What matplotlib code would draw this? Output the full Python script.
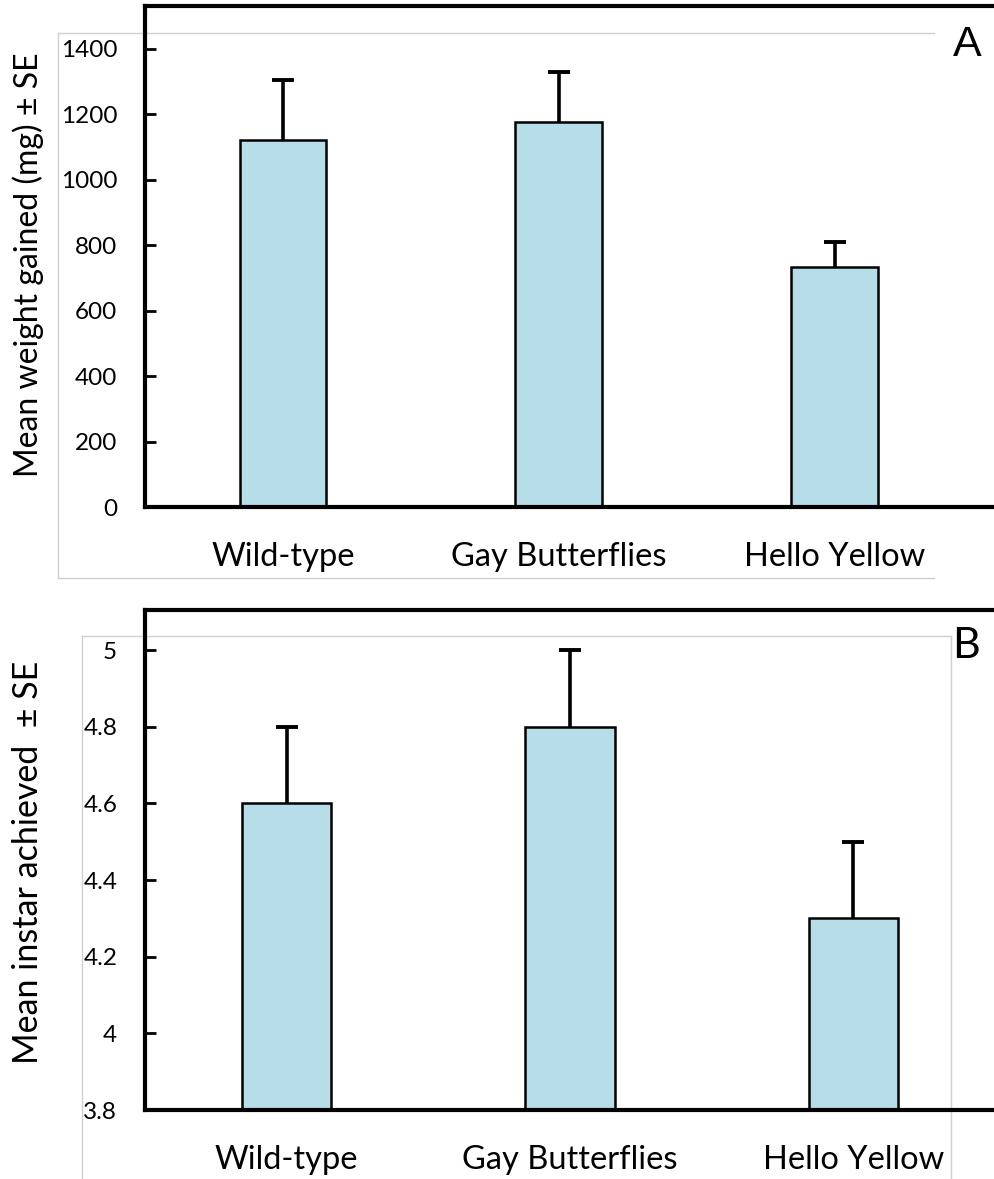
import matplotlib
matplotlib.use("Agg")
import matplotlib.pyplot as plt
from matplotlib.lines import Line2D

plt.rcParams['font.family'] = ['Lato', 'DejaVu Sans']

# data
categories = ['Wild-type', 'Gay Butterflies', 'Hello Yellow']

weight_mean = [1120, 1177, 734]
weight_se = [186, 153, 76]
weight_ticks = [0, 200, 400, 600, 800, 1000, 1200, 1400]

instar_mean = [4.6, 4.8, 4.3]
instar_se = [0.2, 0.2, 0.2]
instar_ticks = [3.8, 4, 4.2, 4.4, 4.6, 4.8, 5]
instar_ticklabels = ['3.8', '4', '4.2', '4.4', '4.6', '4.8', '5']

W, H = 995, 1179
fig = plt.figure(figsize=(W / 100, H / 100), dpi=100)
bar_col = '#b7dde8'


def px_axes(left, top, right, bottom):
	return fig.add_axes([left / W, 1 - bottom / H, (right - left) / W, (bottom - top) / H])


def gray_line(x0, y0, x1, y1):
	fig.add_artist(Line2D([x0 / W, x1 / W], [1 - y0 / H, 1 - y1 / H],
		transform=fig.transFigure, color='#d0d0d0', lw=1.0, zorder=0))


# thin excel chart borders behind
gray_line(58, 33, 934, 33)
gray_line(58, 33, 58, 578)
gray_line(58, 578, 934, 578)
gray_line(82, 636, 951, 636)
gray_line(82, 636, 82, 1179)
gray_line(951, 636, 951, 1179)


def panel(ax, means, ses, ticks, ticklabels, ylim, xlim):
	x = list(range(len(categories)))
	ax.bar(x, means, width=0.315, color=bar_col, edgecolor='black', linewidth=1.8, zorder=2)
	_, caps, _ = ax.errorbar(x, means, yerr=[[0] * len(ses), ses], fmt='none', ecolor='black',
		elinewidth=2.6, capsize=8, capthick=2.8, zorder=3)
	caps[0].set_visible(False)  # only the upper cap
	ax.set_xlim(*xlim)
	ax.set_ylim(*ylim)
	ax.set_yticks(ticks)
	ax.set_yticklabels(ticklabels)
	ax.set_xticks(x)
	ax.set_xticklabels(categories, fontsize=23.5)
	ax.tick_params(axis='x', length=0, pad=25)
	ax.tick_params(axis='y', direction='in', length=8, width=2, labelsize=17.5, pad=20)
	ax.spines['right'].set_visible(False)
	for s in ['left', 'top', 'bottom']:
		ax.spines[s].set_linewidth(3)
	ax.patch.set_alpha(0)
	return ax


axA = px_axes(145, 6, 995, 507)
panel(axA, weight_mean, weight_se, weight_ticks, [str(t) for t in weight_ticks],
	(0, 1531), (-0.5, 2.58))
fig.text(28 / W, 1 - 265 / H, 'Mean weight gained (mg) \u00b1 SE', rotation=90,
	ha='center', va='center', fontsize=23)
fig.text(967 / W, 1 - 45 / H, 'A', ha='center', va='center', fontsize=31,
	family=['Liberation Sans', 'DejaVu Sans'])

axB = px_axes(145, 610, 995, 1110)
panel(axB, instar_mean, instar_se, instar_ticks, instar_ticklabels,
	(3.8, 5.105), (-0.5, 2.5))
fig.text(28 / W, 1 - 862 / H, 'Mean instar achieved  \u00b1 SE', rotation=90,
	ha='center', va='center', fontsize=24.5)
fig.text(966 / W, 1 - 646 / H, 'B', ha='center', va='center', fontsize=31)

fig.savefig('out.png', dpi=100)
